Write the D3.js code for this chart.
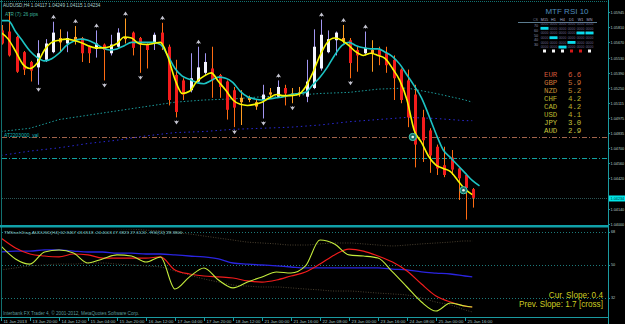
<!DOCTYPE html>
<html>
<head>
<meta charset="utf-8">
<script src="https://cdn.jsdelivr.net/npm/d3@7"></script>
<style>
html, body {margin:0; padding:0; background:#000;}
svg {display:block;}
</style>
</head>
<body>
<div id="content"></div>
<script>
// AUDUSD H4 (heiken ashi style bars), 11 Jan 2013 .. 25 Jan 2013
const openP  = [1.0578,1.0577,1.0572,1.0558,1.0549,1.0544,1.0551,1.0558,1.0567,1.0566,
                1.0568,1.0571,1.0563,1.0561,1.0565,1.0557,1.0563,1.0570,1.0576,1.0571,
                1.0565,1.0566,1.0576,1.0563,1.0537,1.0532,1.0523,1.0531,1.0539,1.0543,
                1.0537,1.0531,1.0523,1.0516,1.0514,1.0512,1.0514,1.0519,1.0517,1.0525,
                1.0518,1.0520,1.0517,1.0525,1.0543,1.0558,1.0569,1.0568,1.0569,1.0560,
                1.0557,1.0560,1.0560,1.0557,1.0551,1.0542,1.0532,1.0519,1.0498,1.0486,
                1.0471,1.0454,1.0461,1.0451,1.0445,1.0432];
const highP  = [1.0583,1.0595,1.0573,1.0559,1.0550,1.0569,1.0570,1.0586,1.0579,1.0577,
                1.0582,1.0572,1.0564,1.0578,1.0566,1.0574,1.0580,1.0589,1.0577,1.0572,
                1.0566,1.0576,1.0585,1.0565,1.0551,1.0534,1.0557,1.0563,1.0557,1.0563,
                1.0538,1.0532,1.0526,1.0523,1.0518,1.0514,1.0528,1.0525,1.0532,1.0528,
                1.0525,1.0526,1.0551,1.0579,1.0588,1.0578,1.0577,1.0583,1.0571,1.0563,
                1.0577,1.0569,1.0563,1.0563,1.0555,1.0543,1.0542,1.0528,1.0505,1.0488,
                1.0473,1.0471,1.0468,1.0452,1.0446,1.0433];
const lowP   = [1.0565,1.0554,1.0539,1.0537,1.0531,1.0528,1.0549,1.0557,1.0558,1.0558,
                1.0565,1.0549,1.0548,1.0553,1.0532,1.0555,1.0562,1.0566,1.0555,1.0539,
                1.0543,1.0560,1.0560,1.0509,1.0498,1.0514,1.0521,1.0530,1.0537,1.0516,
                1.0516,1.0496,1.0489,1.0491,1.0512,1.0505,1.0497,1.0516,1.0516,1.0509,
                1.0511,1.0517,1.0512,1.0524,1.0541,1.0557,1.0555,1.0566,1.0534,1.0540,
                1.0555,1.0540,1.0546,1.0539,1.0514,1.0511,1.0489,1.0452,1.0457,1.0447,
                1.0445,1.0443,1.0445,1.0422,1.0404,1.0415];
const closeP = [1.0566,1.0555,1.0540,1.0542,1.0541,1.0557,1.0566,1.0576,1.0571,1.0571,
                1.0572,1.0557,1.0557,1.0566,1.0560,1.0565,1.0576,1.0572,1.0562,1.0565,
                1.0560,1.0574,1.0565,1.0514,1.0503,1.0519,1.0534,1.0544,1.0549,1.0532,
                1.0526,1.0505,1.0507,1.0512,1.0516,1.0508,1.0519,1.0521,1.0526,1.0520,
                1.0520,1.0521,1.0531,1.0563,1.0574,1.0570,1.0576,1.0571,1.0548,1.0555,
                1.0562,1.0557,1.0555,1.0546,1.0534,1.0514,1.0498,1.0473,1.0477,1.0463,
                1.0451,1.0445,1.0450,1.0442,1.0433,1.0424];

// moving averages on the price window
const fastMA = [1.0576,1.0570,1.0559,1.0547,1.0543,1.0548,1.0560,1.0567,1.0569,1.0570,
                1.0569,1.0567,1.0564,1.0562,1.0562,1.0563,1.0566,1.0572,1.0571,1.0566,
                1.0565,1.0566,1.0567,1.0554,1.0533,1.0520,1.0522,1.0531,1.0536,1.0539,
                1.0531,1.0523,1.0514,1.0510,1.0509,1.0510,1.0512,1.0516,1.0519,1.0518,
                1.0518,1.0519,1.0526,1.0539,1.0555,1.0567,1.0571,1.0569,1.0564,1.0558,
                1.0555,1.0557,1.0555,1.0552,1.0543,1.0532,1.0514,1.0486,1.0475,1.0462,
                1.0454,1.0451,1.0448,1.0440,1.0432,1.0427];
const midMA  = [1.0587,1.0587,1.0577,1.0568,1.0559,1.0553,1.0550,1.0552,1.0557,1.0564,
                1.0568,1.0570,1.0569,1.0566,1.0562,1.0560,1.0561,1.0564,1.0567,1.0567,
                1.0567,1.0567,1.0565,1.0555,1.0543,1.0536,1.0533,1.0530,1.0529,1.0532,
                1.0535,1.0534,1.0530,1.0522,1.0517,1.0515,1.0514,1.0515,1.0516,1.0517,
                1.0519,1.0520,1.0521,1.0528,1.0535,1.0544,1.0555,1.0564,1.0567,1.0564,
                1.0562,1.0561,1.0561,1.0558,1.0554,1.0547,1.0537,1.0527,1.0516,1.0500,
                1.0483,1.0468,1.0461,1.0454,1.0447,1.0440,1.0435];
const slowIdx = [0,4,8,12,16,20,24,28,32,36,40,44,48,52,56,60,64,65];
const slowMA  = [1.0485,1.0488,1.0496,1.0500,1.0504,1.0508,1.0512,1.0514,1.0515,1.0517,
                 1.0518,1.0520,1.0521,1.0524,1.0525,1.0520,1.0514,1.0512];
const longMA  = [1.0463,1.0467,1.0470,1.0474,1.0477,1.0481,1.0484,1.0485,1.0487,1.0488,
                 1.0489,1.0491,1.0494,1.0496,1.0498,1.0497,1.0495,1.0495];

const fractalUp   = [7,10,13,17,22,27,38,44,47,50];
const fractalDown = [5,14,19,24,32,36,40,48];
const alertBars   = [57,64];
const alertPrices = [1.0480,1.0431];
const levelOrange = 1.0480;
const levelTeal   = 1.0461;
const lastPrice   = 1.04234;

const priceTicks = [1.05945,1.05810,1.05670,1.05530,1.05390,1.05250,1.05115,1.04975,
                    1.04835,1.04700,1.04560,1.04420,1.04140,1.04000];

const timeBars   = [0,4,8,12,16,20,24,28,32,36,40,44,48,52,56,60,64];
const timeLabels = ["11 Jan 2013","13 Jan 20:00","14 Jan 12:00","15 Jan 04:00","15 Jan 20:00",
                    "16 Jan 12:00","17 Jan 04:00","17 Jan 20:00","18 Jan 12:00","21 Jan 00:00",
                    "21 Jan 16:00","22 Jan 08:00","23 Jan 00:00","23 Jan 16:00","24 Jan 08:00",
                    "25 Jan 00:00","25 Jan 16:00"];

// sub window (stochastic + rsi), sampled every 2 bars
const subIdx = [0,2,4,6,8,10,12,14,16,18,20,22,24,26,28,30,32,34,36,38,40,42,44,46,48,50,
                52,54,56,58,60,62,64,65];
const stochMain = [60.4,53.3,50.5,57.1,58.2,56.5,51.1,53.3,55.5,54.9,51.6,54.4,36.9,43.5,48.4,41.8,37.5,
                   40.7,43.5,46.2,45.6,49.5,63.6,61.5,55.5,54.9,53.8,46.2,38.0,29.8,24.9,29.3,27.6,27.1];
const stochSig  = [64.7,59.3,56.0,54.9,54.4,56.0,55.5,53.8,53.8,53.8,53.8,54.4,47.3,45.1,44.0,43.5,42.9,
                   41.3,40.7,41.8,44.0,46.2,50.5,55.5,58.7,57.6,54.9,51.6,46.7,39.6,33.1,29.8,27.6,27.1];
const rsiSlow   = [57.1,57.6,57.6,58.2,58.2,57.6,57.1,57.1,56.5,56.5,56.0,56.0,55.5,54.9,54.4,53.3,51.1,
                   50.5,50.0,49.5,48.9,48.4,48.4,48.4,48.4,48.4,48.4,47.8,47.3,46.2,45.6,45.1,44.0,43.5];
const bandUp    = [71.5,71.8,72.0,72.0,71.6,71.0,70.5,70.0,69.8,69.6,69.0,68.6,67.7,66.9,65.8,64.7,63.6,
                   62.5,62.0,61.5,60.9,60.9,61.5,62.0,62.0,61.5,60.9,60.4,60.9,61.5,62.0,62.5,63.1,63.1];
const bandDown  = [47.3,48.4,49.5,50.0,50.5,50.5,51.1,51.1,50.5,50.0,49.5,48.9,46.7,44.5,42.4,40.7,39.1,
                   38.5,38.0,38.0,37.5,36.9,36.4,35.8,35.8,35.3,34.7,34.2,33.6,32.0,29.8,28.2,25.5,24.4];
const subLevels = [68,50,32];

// MTF RSI panel and currency strength
const rsiFrames = ["M15","H1","H4","D1","W1","MN"];
const rsiValues = [65.3,45.8,28.4,36.1,55.2,57.6];
const rsiDir    = [1,1,1,-1,-1,1];
const rsiRows   = ["70","60","50","40","30"];
const currencies = ["EUR","GBP","NZD","CHF","CAD","USD","JPY","AUD"];
const strength   = [6.6,5.9,5.2,4.2,4.2,4.1,3.0,2.9];

const W = 625, H = 324;
const font = "'Liberation Sans', Arial, sans-serif";
const mono = "'Liberation Mono', 'DejaVu Sans Mono', monospace";

const svg = d3.select("#content")
    .append("svg")
    .attr("width", W)
    .attr("height", H)
    .style("background", "#000");

const x = d3.scaleLinear().domain([0, 65]).range([1, 472.25]);
const y = d3.scaleLinear().domain([1.0399, 1.0606]).range([225, 0]);
const ys = d3.scaleLinear().domain([32, 68]).range([298, 232]);

const defs = svg.append("defs");
defs.append("clipPath").attr("id", "clipMain")
    .append("rect").attr("x", 2).attr("y", 2).attr("width", 605).attr("height", 222);
defs.append("clipPath").attr("id", "clipSub")
    .append("rect").attr("x", 2).attr("y", 229).attr("width", 605).attr("height", 88);

// frame
svg.append("line").attr("x1", 0).attr("x2", 607).attr("y1", 1.5).attr("y2", 1.5)
    .attr("stroke", "#127070").attr("stroke-dasharray", "1,1");
svg.append("line").attr("x1", 1.5).attr("x2", 1.5).attr("y1", 0).attr("y2", 317)
    .attr("stroke", "#127070");
svg.append("line").attr("x1", 608.5).attr("x2", 608.5).attr("y1", 0).attr("y2", 324)
    .attr("stroke", "#1a9aa0");
svg.append("rect").attr("x", 0).attr("y", 225).attr("width", 609).attr("height", 2.5)
    .attr("fill", "#10a0a8");
svg.append("line").attr("x1", 0).attr("x2", 609).attr("y1", 317.5).attr("y2", 317.5)
    .attr("stroke", "#1a9aa0");

const main = svg.append("g").attr("clip-path", "url(#clipMain)");

// horizontal levels
main.append("line").attr("x1", 2).attr("x2", 607)
    .attr("y1", Math.round(y(levelOrange)) + 0.5).attr("y2", Math.round(y(levelOrange)) + 0.5)
    .attr("stroke", "#a4654c").attr("stroke-dasharray", "5,2,1,2");
main.append("line").attr("x1", 2).attr("x2", 607)
    .attr("y1", Math.round(y(levelTeal)) + 0.5).attr("y2", Math.round(y(levelTeal)) + 0.5)
    .attr("stroke", "#11a2a2").attr("stroke-dasharray", "5,2,1,2");
main.append("line").attr("x1", 2).attr("x2", 607)
    .attr("y1", Math.round(y(lastPrice)) + 0.5).attr("y2", Math.round(y(lastPrice)) + 0.5)
    .attr("stroke", "#2b5656").attr("stroke-dasharray", "1,1");

const slowLine = d3.line()
    .x((d, i) => x(slowIdx[i]))
    .y(d => y(d));

main.append("path").datum(slowMA)
    .attr("fill", "none").attr("stroke", "#1b9c9c").attr("stroke-width", 1)
    .attr("stroke-dasharray", "1.5,2").attr("d", slowLine);
main.append("path").datum(longMA)
    .attr("fill", "none").attr("stroke", "#2a2ad8").attr("stroke-width", 1)
    .attr("stroke-dasharray", "1.5,3").attr("d", slowLine);

main.append("text").attr("x", 4).attr("y", 136.5)
    .attr("font-family", font).attr("font-size", 5).attr("fill", "#12b8b8")
    .text("AT2203000_val");

// candles
const bars = openP.map((o, i) => ({i: i, o: o, h: highP[i], l: lowP[i], c: closeP[i]}));

function kind(d)
{
    if (Math.abs(d.c - d.o) < 0.00045) return "doji";
    return d.c > d.o ? "bull" : "bear";
}
const wickColor = {bull: "#a296f2", bear: "#ff6c12", doji: "#ff9c20"};
const bodyColor = {bull: "#f4f4ff", bear: "#f41c1c", doji: "#ffa626"};

const candle = main.append("g").selectAll("g")
    .data(bars)
    .join("g");

candle.append("line")
    .attr("x1", d => Math.round(x(d.i)) + 1.5)
    .attr("x2", d => Math.round(x(d.i)) + 1.5)
    .attr("y1", d => y(d.h))
    .attr("y2", d => y(d.l))
    .attr("stroke", d => wickColor[kind(d)])
    .attr("stroke-width", 1);

candle.append("rect")
    .attr("x", d => Math.round(x(d.i)))
    .attr("width", 3)
    .attr("y", d => y(Math.max(d.o, d.c)))
    .attr("height", d => Math.max(1.2, Math.abs(y(d.o) - y(d.c))))
    .attr("fill", d => bodyColor[kind(d)]);

// fractals
main.append("g").selectAll("path")
    .data(fractalUp)
    .join("path")
    .attr("transform", i => "translate(" + (Math.round(x(i)) + 1.5) + "," + (y(highP[i]) - 7) + ")")
    .attr("d", "M0,0L2.6,4L0.8,3.2L0,4.2L-0.8,3.2L-2.6,4Z")
    .attr("fill", "#c4c4d0");

main.append("g").selectAll("path")
    .data(fractalDown)
    .join("path")
    .attr("transform", i => "translate(" + (Math.round(x(i)) + 1.5) + "," + (y(lowP[i]) + 7) + ")")
    .attr("d", "M0,0L2.6,-4L0.8,-3.2L0,-4.2L-0.8,-3.2L-2.6,-4Z")
    .attr("fill", "#c4c4d0");

// moving averages
const barLine = d3.line()
    .x((d, i) => x(i))
    .y(d => y(d))
    .curve(d3.curveMonotoneX);

main.append("path").datum(midMA)
    .attr("fill", "none").attr("stroke", "#1cc4c4").attr("stroke-width", 1.6)
    .attr("d", barLine);
main.append("path").datum(fastMA)
    .attr("fill", "none").attr("stroke", "#f8f800").attr("stroke-width", 1.6)
    .attr("d", barLine);

// alert circles
alertBars.forEach(function(b, k) {
    main.append("circle").attr("cx", x(b) - 1.5).attr("cy", y(alertPrices[k]))
        .attr("r", 3.6).attr("fill", "#1f6c64").attr("stroke", "#3fc9b4").attr("stroke-width", 1);
    main.append("circle").attr("cx", x(b) - 1.5).attr("cy", y(alertPrices[k]))
        .attr("r", 1.3).attr("fill", "#e8f4e8");
});

// top-left texts
svg.append("text").attr("x", 3).attr("y", 7)
    .attr("font-family", font).attr("font-size", 4.6).attr("fill", "#a8d0d0")
    .text("AUDUSD,H4  1.04117 1.04249 1.04115 1.04234");
svg.append("text").attr("x", 5).attr("y", 16)
    .attr("font-family", font).attr("font-size", 4.6).attr("fill", "#3cb49c")
    .text("ATR (7):  26 pips");

// price axis
const axisG = svg.append("g");
priceTicks.forEach(function(p) {
    let py = Math.round(y(p)) + 0.5;
    axisG.append("line").attr("x1", 608).attr("x2", 610).attr("y1", py).attr("y2", py)
        .attr("stroke", "#1a9aa0");
    axisG.append("text").attr("x", 610.5).attr("y", py).attr("dy", "0.35em")
        .attr("font-family", font).attr("font-size", 3.8).attr("fill", "#b4c8c8")
        .text(p.toFixed(5));
});
axisG.append("rect").attr("x", 609).attr("y", y(lastPrice) - 3).attr("width", 16).attr("height", 6)
    .attr("fill", "#00e4e6");
axisG.append("text").attr("x", 610.5).attr("y", y(lastPrice)).attr("dy", "0.35em")
    .attr("font-family", font).attr("font-size", 3.8).attr("fill", "#003838")
    .text(lastPrice.toFixed(5));

// MTF RSI panel
const panel = svg.append("g");
const colX = d3.scalePoint().domain(rsiFrames).range([544.5, 589.5]);
const rowY = d3.scaleLinear().domain([0, 5]).range([23.5, 47]);
const rowOf = d3.scaleThreshold().domain([30, 40, 50, 60, 70]).range([5, 4, 3, 2, 1, 0]);

panel.append("text").attr("x", 567).attr("y", 13.5).attr("text-anchor", "middle")
    .attr("font-family", font).attr("font-size", 8).attr("fill", "#4e8cbc")
    .text("MTF RSI  10");
panel.append("line").attr("x1", 518).attr("x2", 597).attr("y1", 22.5).attr("y2", 22.5)
    .attr("stroke", "#5c7c90");
panel.append("text").attr("x", 533).attr("y", 20.5)
    .attr("font-family", font).attr("font-size", 3.6).attr("fill", "#707890").text("CS");
panel.selectAll(".hdr").data(rsiFrames).join("text")
    .attr("x", d => colX(d)).attr("y", 20.5).attr("text-anchor", "middle")
    .attr("font-family", font).attr("font-size", 3.8).attr("fill", "#a8a8c8")
    .text(d => d);
panel.selectAll(".lvl").data(rsiRows).join("text")
    .attr("x", 536).attr("y", (d, i) => (rowY(i) + rowY(i + 1)) / 2 + 1.5)
    .attr("text-anchor", "middle")
    .attr("font-family", font).attr("font-size", 3.8).attr("fill", "#8a8aa8")
    .text(d => d);

rsiFrames.forEach(function(tf, c) {
    d3.range(6).forEach(function(r) {
        panel.append("text").attr("x", colX(tf)).attr("y", rowY(r) + 1.3)
            .attr("text-anchor", "middle")
            .attr("font-family", font).attr("font-size", 3.4).attr("fill", "#6a6a8a")
            .text("0000");
    });
    panel.append("rect").attr("x", colX(tf) - 4).attr("y", rowY(rowOf(rsiValues[c])) - 1.3)
        .attr("width", 8).attr("height", 2.8).attr("fill", "#08dcec");
    panel.append("rect").attr("x", colX(tf) - 1.5).attr("y", 49.5)
        .attr("width", 3).attr("height", 3)
        .attr("fill", rsiDir[c] > 0 ? "#f4f4f4" : "#d41818");
});

// currency strength
const curY = d3.scalePoint().domain(currencies).range([74.5, 131]);
const curColor = d3.scaleLinear().domain([2.9, 4.2, 6.6]).range(["#c8c23c", "#bcb42c", "#d2583a"]);
currencies.forEach(function(cur, i) {
    panel.append("text").attr("x", 544).attr("y", curY(cur)).attr("dy", "0.33em")
        .attr("font-family", mono).attr("font-size", 7.4).attr("fill", curColor(strength[i]))
        .text(cur);
    panel.append("text").attr("x", 568).attr("y", curY(cur)).attr("dy", "0.33em")
        .attr("font-family", mono).attr("font-size", 7.4).attr("fill", curColor(strength[i]))
        .text(strength[i].toFixed(1));
});

// sub window
const sub = svg.append("g").attr("clip-path", "url(#clipSub)");

subLevels.forEach(function(v) {
    sub.append("line").attr("x1", 2).attr("x2", 607)
        .attr("y1", Math.round(ys(v)) + 0.5).attr("y2", Math.round(ys(v)) + 0.5)
        .attr("stroke", "#1c7a7a").attr("stroke-dasharray", "1,2");
});

const subLine = d3.line()
    .x((d, i) => x(subIdx[i]))
    .y(d => ys(d))
    .curve(d3.curveMonotoneX);

sub.append("path").datum(bandUp)
    .attr("fill", "none").attr("stroke", "#4a4030").attr("stroke-dasharray", "1,1.5")
    .attr("d", subLine);
sub.append("path").datum(bandDown)
    .attr("fill", "none").attr("stroke", "#4a4030").attr("stroke-dasharray", "1,1.5")
    .attr("d", subLine);
sub.append("path").datum(rsiSlow)
    .attr("fill", "none").attr("stroke", "#2a24e0").attr("stroke-width", 1.3)
    .attr("d", subLine);
sub.append("path").datum(stochSig)
    .attr("fill", "none").attr("stroke", "#f21c1c").attr("stroke-width", 1.2)
    .attr("d", subLine);
sub.append("path").datum(stochMain)
    .attr("fill", "none").attr("stroke", "#c4ec3c").attr("stroke-width", 1.1)
    .attr("d", subLine);

svg.append("text").attr("x", 4).attr("y", 234)
    .attr("font-family", font).attr("font-size", 4.4).attr("fill", "#8cc8c8")
    .text("TMStochDiag-AUDUSD(H4) 62.8467 43.6518 -24.4003 27.3823 27.6124 - RSI(10) 28.3806");
svg.append("text").attr("x", 3).attr("y", 315)
    .attr("font-family", font).attr("font-size", 4.7).attr("fill", "#5c9c9c")
    .text("Interbank FX Trader 4, \u00a9 2001-2012, MetaQuotes Software Corp.");
svg.append("text").attr("x", 603).attr("y", 297.5).attr("text-anchor", "end")
    .attr("font-family", font).attr("font-size", 8.2).attr("fill", "#cccc22")
    .text("Cur. Slope: 0.4");
svg.append("text").attr("x", 603).attr("y", 306.5).attr("text-anchor", "end")
    .attr("font-family", font).attr("font-size", 8.2).attr("fill", "#cccc22")
    .text("Prev. Slope: 1.7 [cross]");

subLevels.forEach(function(v) {
    svg.append("line").attr("x1", 608).attr("x2", 610)
        .attr("y1", Math.round(ys(v)) + 0.5).attr("y2", Math.round(ys(v)) + 0.5)
        .attr("stroke", "#1a9aa0");
    svg.append("text").attr("x", 611).attr("y", ys(v)).attr("dy", "0.35em")
        .attr("font-family", font).attr("font-size", 3.8).attr("fill", "#b4c8c8")
        .text(v);
});

// time axis
const timeG = svg.append("g");
timeBars.forEach(function(b, k) {
    let tx = Math.round(x(b)) + 0.5;
    timeG.append("line").attr("x1", tx).attr("x2", tx).attr("y1", 317).attr("y2", 321)
        .attr("stroke", "#1a9aa0");
    timeG.append("text").attr("x", tx + 2).attr("y", 322.5)
        .attr("font-family", font).attr("font-size", 4.3).attr("fill", "#a8c4c4")
        .text(timeLabels[k]);
});
</script>
</body>
</html>
